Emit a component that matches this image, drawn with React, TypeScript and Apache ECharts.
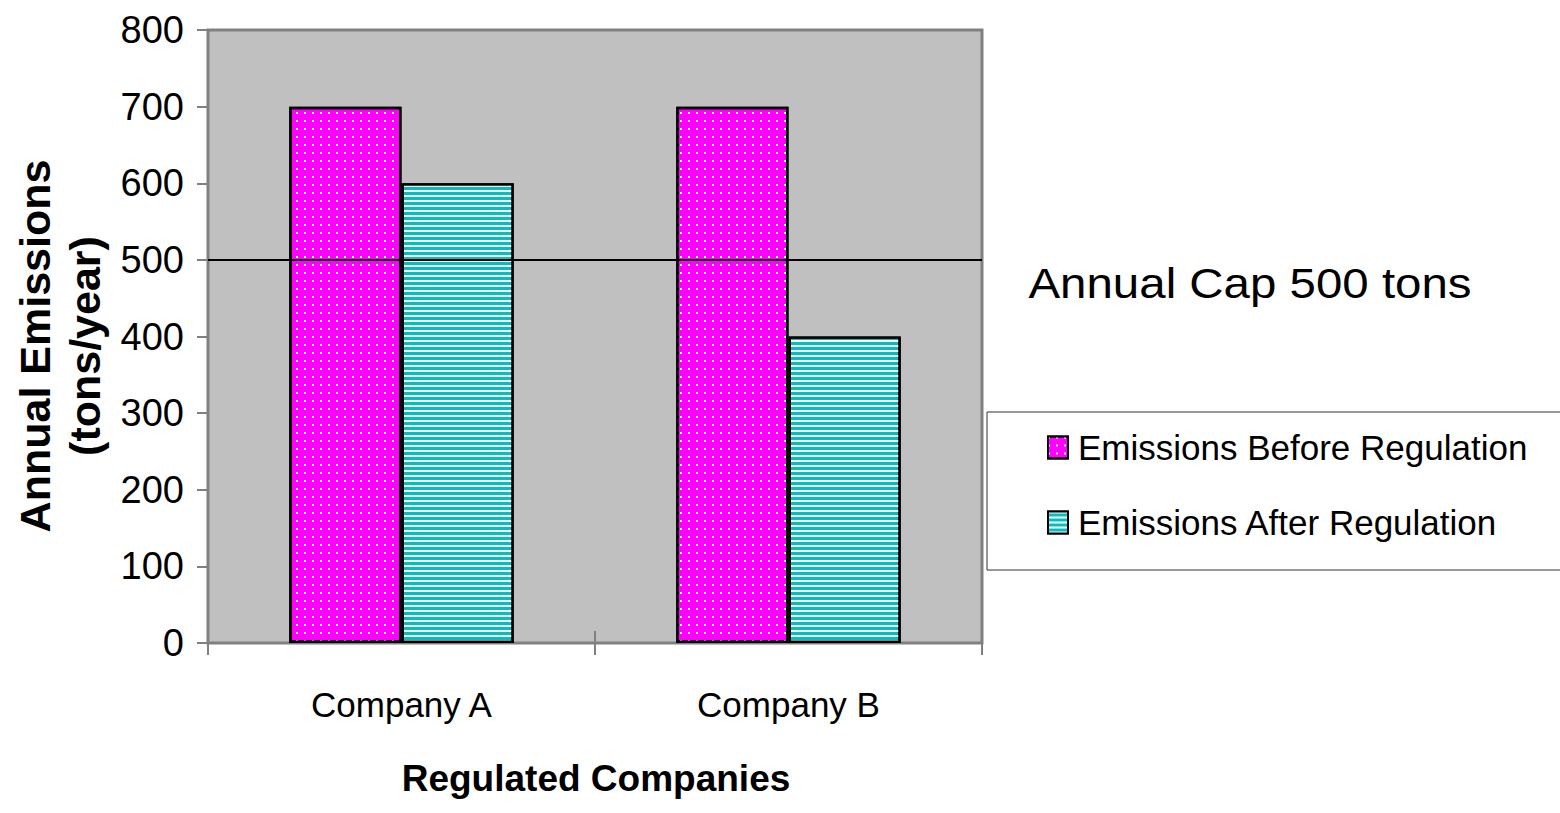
import React, { useEffect, useRef } from "react";
import * as echarts from "echarts";

const categories = ["Company A", "Company B"];
const beforeValues = [700, 700];
const afterValues = [600, 400];
const capValue = 500;
const seriesNames = ["Emissions Before Regulation", "Emissions After Regulation"];
const yTitleLines = ["Annual Emissions", "(tons/year)"];
const xTitle = "Regulated Companies";
const capLabel = "Annual Cap 500 tons";

const SANS = "'Liberation Sans', Arial, sans-serif";

export default function App() {
  const ref = useRef<HTMLDivElement>(null);
  useEffect(() => {
    if (!ref.current) return;
    const chart = echarts.init(ref.current, undefined, { renderer: "svg" });
    const dotDecal = {
      symbol: "rect",
      symbolSize: 1,
      color: "#ffffff",
      dashArrayX: [2, 6],
      dashArrayY: [2, 6],
      rotation: 0,
    };
    const stripeDecal = {
      symbol: "rect",
      symbolSize: 1,
      color: "#ffffff",
      dashArrayX: [1, 0],
      dashArrayY: [2, 3],
      rotation: 0,
    };
    chart.setOption({
      animation: false,
      backgroundColor: "#ffffff",
      grid: {
        left: 208,
        top: 30,
        right: 578,
        bottom: 170,
        show: true,
        backgroundColor: "#c0c0c0",
        borderColor: "#808080",
        borderWidth: 3,
      },
      legend: {
        orient: "vertical",
        left: 1042,
        top: 425,
        icon: "rect",
        itemWidth: 20,
        itemHeight: 22,
        itemGap: 40,
        textStyle: { fontFamily: SANS, fontSize: 35, color: "#000", padding: [0, 0, 0, 5] },
        data: seriesNames,
      },
      xAxis: [
        {
          type: "category",
          data: categories,
          axisLine: { show: true, lineStyle: { color: "#808080", width: 2 } },
          axisTick: { show: true, length: 12, lineStyle: { color: "#808080", width: 2 } },
          axisLabel: { fontFamily: SANS, fontSize: 35, color: "#000", margin: 44 },
        },
        {
          type: "category",
          data: categories,
          position: "bottom",
          axisLine: { show: false },
          axisTick: { show: true, inside: true, length: 12, lineStyle: { color: "#808080", width: 2 } },
          axisLabel: { show: false },
        },
      ],
      yAxis: {
        type: "value",
        min: 0,
        max: 800,
        interval: 100,
        splitLine: { show: false },
        axisLine: { show: true, lineStyle: { color: "#808080", width: 2 } },
        axisTick: { show: true, length: 11, lineStyle: { color: "#808080", width: 2 } },
        axisLabel: { fontFamily: SANS, fontSize: 38, color: "#000", margin: 24 },
      },
      series: [
        {
          name: seriesNames[0],
          type: "bar",
          data: beforeValues,
          barGap: "0%",
          barCategoryGap: "42%",
          itemStyle: { color: "#ff00ff", borderColor: "#000", borderWidth: 2.5, decal: dotDecal },
          markLine: {
            silent: true,
            symbol: "none",
            label: { show: false },
            lineStyle: { color: "#000", width: 2, type: "solid" },
            data: [{ yAxis: capValue }],
          },
        },
        {
          name: seriesNames[1],
          type: "bar",
          data: afterValues,
          itemStyle: { color: "#00c0c0", borderColor: "#000", borderWidth: 2.5, decal: stripeDecal },
        },
      ],
      graphic: [
        {
          type: "rect",
          z: -1,
          shape: { x: 987, y: 412, width: 620, height: 158 },
          style: { fill: "#ffffff", stroke: "#333333", lineWidth: 1 },
        },
        {
          type: "text",
          x: 1250,
          y: 283,
          scaleX: 1.13,
          style: {
            text: capLabel,
            fontFamily: SANS,
            fontSize: 42,
            fill: "#000",
            align: "center",
            verticalAlign: "middle",
          },
        },
        {
          type: "text",
          x: 596,
          y: 778,
          style: {
            text: xTitle,
            fontFamily: SANS,
            fontWeight: "bold",
            fontSize: 37,
            fill: "#000",
            align: "center",
            verticalAlign: "middle",
          },
        },
        {
          type: "text",
          x: 60,
          y: 346,
          rotation: Math.PI / 2,
          style: {
            text: yTitleLines.join("\n"),
            fontFamily: SANS,
            fontWeight: "bold",
            fontSize: 43,
            lineHeight: 50,
            fill: "#000",
            align: "center",
            verticalAlign: "middle",
          },
        },
      ],
    });
    return () => chart.dispose();
  }, []);
  return (
    <div
      ref={ref}
      style={{ position: "fixed", left: 0, top: 0, width: 1560, height: 813, background: "#fff" }}
    />
  );
}
